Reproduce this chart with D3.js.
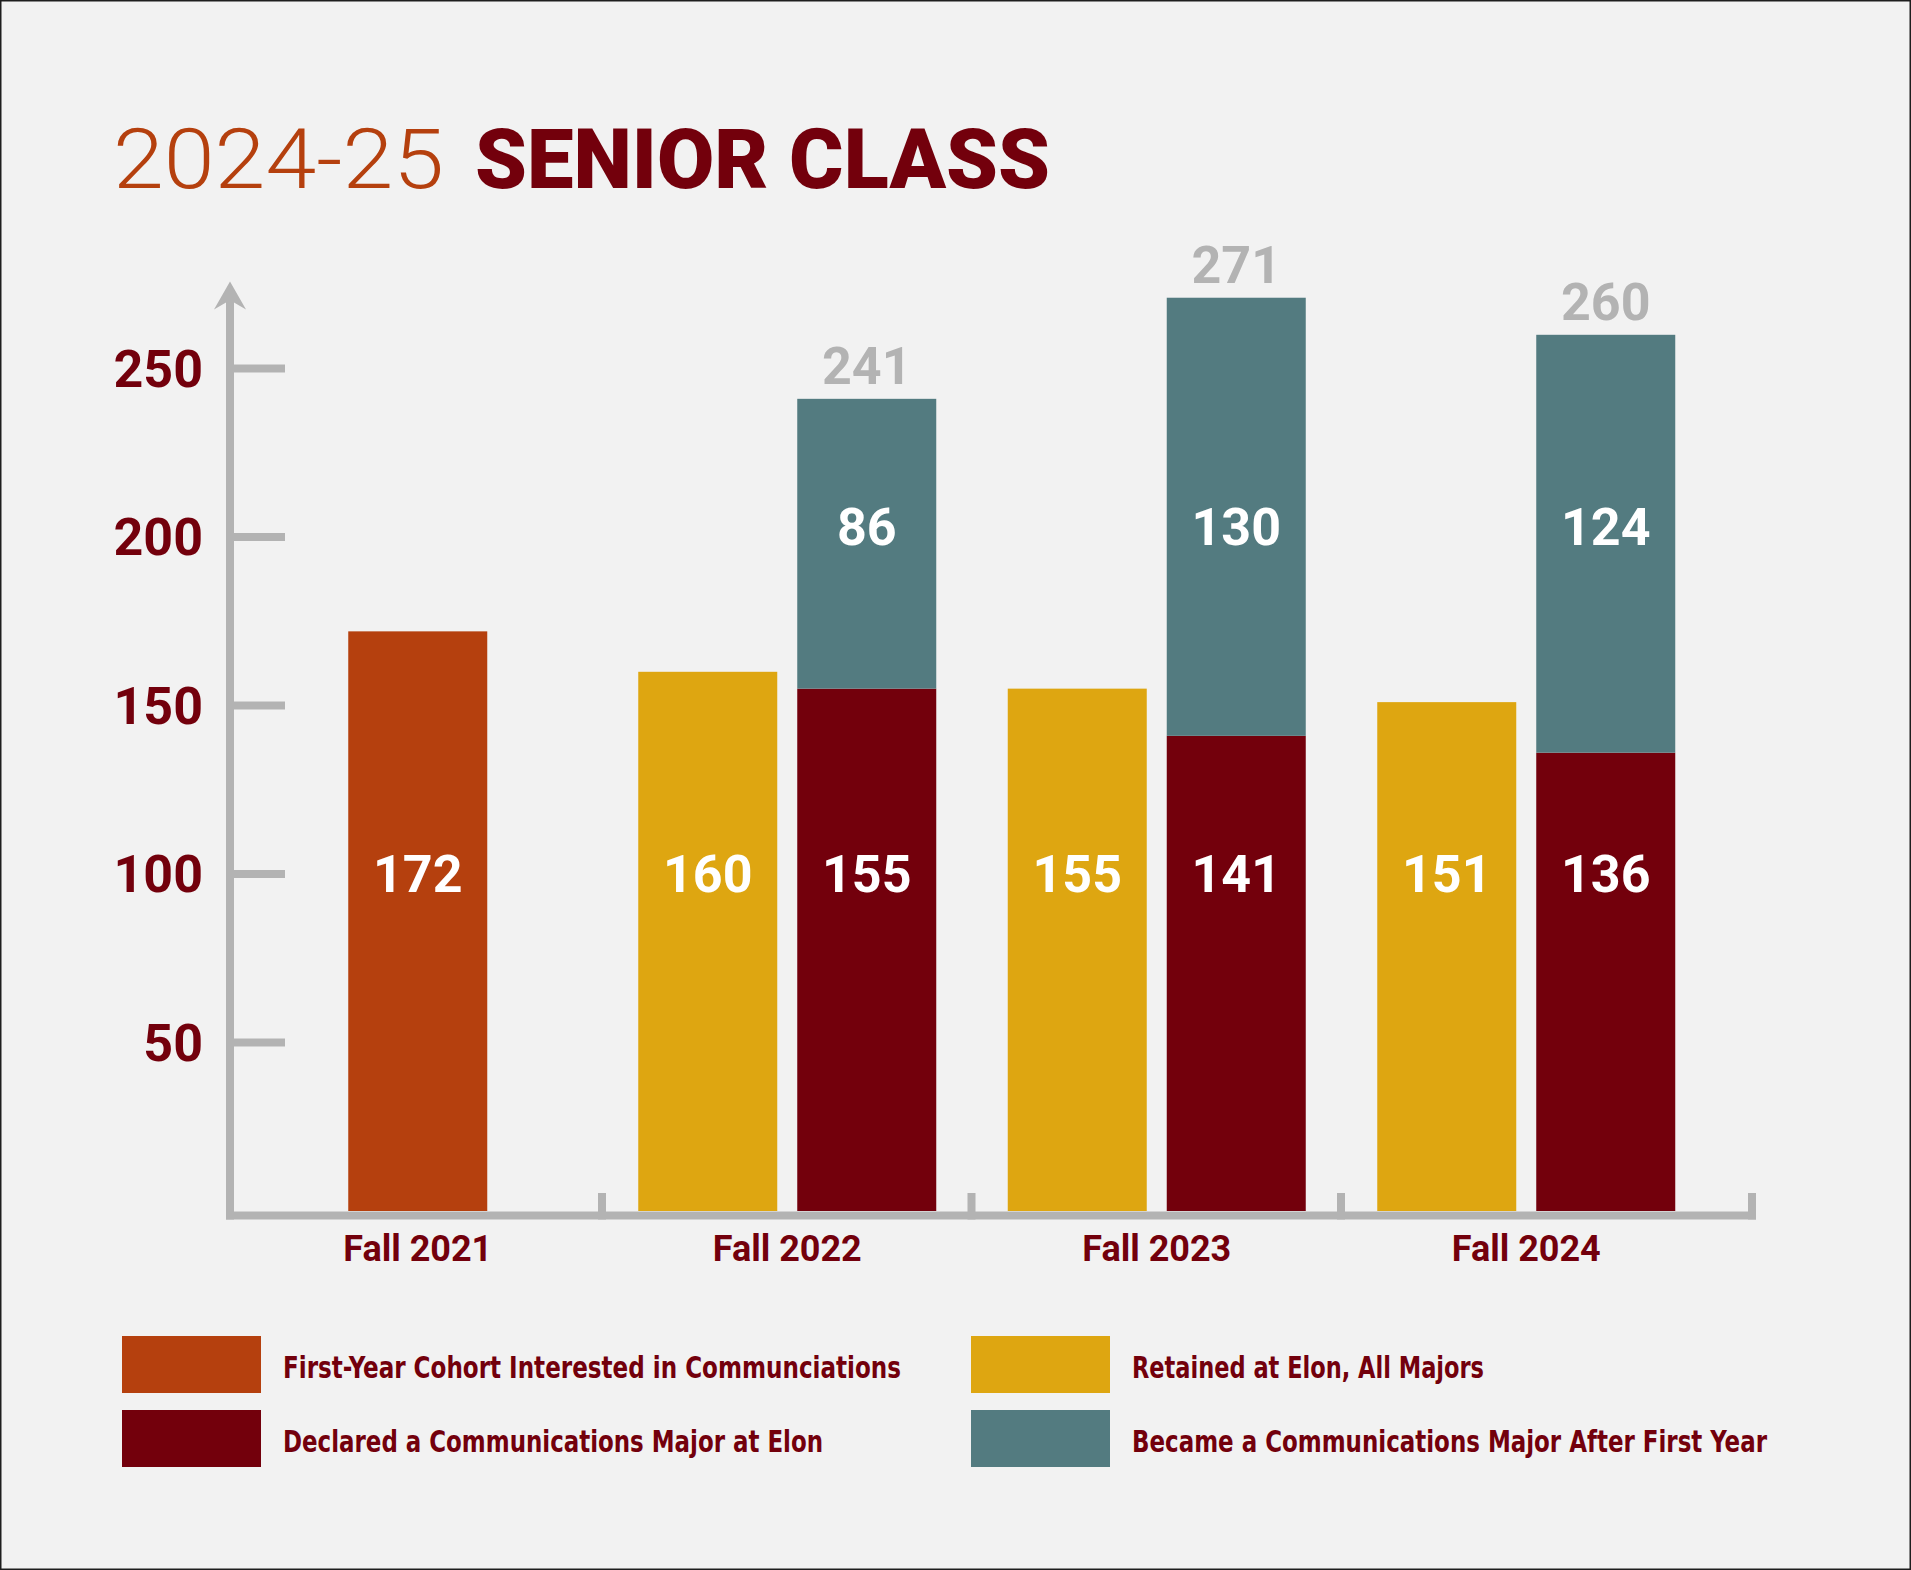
<!DOCTYPE html>
<html>
<head>
<meta charset="utf-8">
<script src="https://cdn.jsdelivr.net/npm/d3@7"></script>
<style>
  html, body { margin: 0; padding: 0; background: #f2f2f2; }
  svg { display: block; }
</style>
</head>
<body>
<svg id="chart" width="1911" height="1570"></svg>
<script>
// ---------- DATA ----------
const categories = ["Fall 2021", "Fall 2022", "Fall 2023", "Fall 2024"];
const firstYearCohort = [172, null, null, null];
const retainedAllMajors = [null, 160, 155, 151];
const declaredCommMajor = [null, 155, 141, 136];
const becameAfterFirstYear = [null, 86, 130, 124];
const yTickValues = [50, 100, 150, 200, 250];
const seriesNames = [
  "First-Year Cohort Interested in Communciations",
  "Retained at Elon, All Majors",
  "Declared a Communications Major at Elon",
  "Became a Communications Major After First Year"
];
const titleLight = "2024-25";
const titleBold = "SENIOR CLASS";

// ---------- STYLE ----------
const C = {
  bg: "#f2f2f2",
  orange: "#b5400e",
  yellow: "#dea611",
  maroon: "#73000c",
  teal: "#537b80",
  gray: "#b3b3b3",
  white: "#ffffff"
};
const seriesColors = [C.orange, C.yellow, C.maroon, C.teal];
const numFont = "Roboto, 'DejaVu Sans', sans-serif";
const legendFont = "'Liberation Sans Narrow', 'DejaVu Sans Condensed', Roboto, sans-serif";

const svg = d3.select("#chart");
svg.append("rect").attr("x", 0).attr("y", 0).attr("width", 1911).attr("height", 1570).attr("fill", C.bg);

// ---------- SCALES ----------
const y = d3.scaleLinear().domain([0, 250]).range([1211, 368.5]);
const x = d3.scaleBand().domain(categories).range([233, 1711]).paddingInner(0).paddingOuter(0);
const sub = d3.scaleBand().domain(["left", "right"]).range([-149, 149]).paddingInner(20 / 159);
const bw = sub.bandwidth();
const cx = c => x(c) + x.bandwidth() / 2;

// ---------- TITLE ----------
svg.append("text").attr("x", 113).attr("y", 188)
  .attr("font-family", numFont).attr("font-weight", 300).attr("font-size", 84)
  .attr("fill", C.orange).attr("textLength", 331).attr("lengthAdjust", "spacingAndGlyphs")
  .text(titleLight);
svg.append("text").attr("x", 475).attr("y", 188)
  .attr("font-family", numFont).attr("font-weight", 900).attr("font-size", 84)
  .attr("fill", C.maroon).attr("textLength", 575).attr("lengthAdjust", "spacingAndGlyphs")
  .text(titleBold);

// ---------- AXES ----------
const axisG = svg.append("g");
const axisX0 = x.range()[0] - 3;            // y axis line centre
const axisEnd = x.range()[1] + 41;          // right end of x axis
const axisYBase = y(0) + 4.5;               // x axis line centre
// y axis line
axisG.append("line").attr("x1", axisX0).attr("x2", axisX0)
  .attr("y1", y(250) - 78).attr("y2", axisYBase + 4)
  .attr("stroke", C.gray).attr("stroke-width", 8);
// arrow head
const tipY = y(250) - 87;
axisG.append("path")
  .attr("d", `M${axisX0},${tipY} L${axisX0 + 16},${tipY + 28} L${axisX0 + 4},${tipY + 21} L${axisX0 - 4},${tipY + 21} L${axisX0 - 16},${tipY + 28} Z`)
  .attr("fill", C.gray);
// y ticks
axisG.selectAll(".ytick").data(yTickValues).join("line")
  .attr("x1", axisX0).attr("x2", axisX0 + 55)
  .attr("y1", d => y(d)).attr("y2", d => y(d))
  .attr("stroke", C.gray).attr("stroke-width", 8);
axisG.selectAll(".ylab").data(yTickValues).join("text")
  .attr("x", axisX0 - 27).attr("y", d => y(d) + 18)
  .attr("text-anchor", "end")
  .attr("font-family", numFont).attr("font-weight", 700).attr("font-size", 52)
  .attr("fill", C.maroon).text(d => d);
// x axis line
axisG.append("line").attr("x1", axisX0 - 4).attr("x2", axisEnd + 4)
  .attr("y1", axisYBase).attr("y2", axisYBase)
  .attr("stroke", C.gray).attr("stroke-width", 8);
// x ticks at band boundaries + end
const xTickPos = categories.slice(1).map(c => x(c) - 0.5).concat([axisEnd]);
axisG.selectAll(".xtick").data(xTickPos).join("line")
  .attr("x1", d => d).attr("x2", d => d)
  .attr("y1", y(0) - 18).attr("y2", axisYBase + 4)
  .attr("stroke", C.gray).attr("stroke-width", 8);
// x labels
axisG.selectAll(".xlab").data(categories).join("text")
  .attr("x", d => cx(d)).attr("y", 1261)
  .attr("text-anchor", "middle")
  .attr("font-family", numFont).attr("font-weight", 700).attr("font-size", 36)
  .attr("fill", C.maroon).text(d => d);

// ---------- BARS ----------
const lowerLabelLevel = 100, upperLabelLevel = 203;
const barsG = svg.append("g");
const labelsG = svg.append("g");
function valueLabel(xc, yc, txt, color) {
  labelsG.append("text").attr("x", xc).attr("y", yc + 18)
    .attr("text-anchor", "middle")
    .attr("font-family", numFont).attr("font-weight", 700).attr("font-size", 52)
    .attr("fill", color).text(txt);
}
categories.forEach((c, i) => {
  const xc = cx(c);
  if (firstYearCohort[i] != null) {
    const v = firstYearCohort[i];
    barsG.append("rect").attr("x", xc - bw / 2).attr("width", bw)
      .attr("y", y(v)).attr("height", y(0) - y(v)).attr("fill", C.orange);
    valueLabel(xc, y(lowerLabelLevel), v, C.white);
  }
  if (retainedAllMajors[i] != null) {
    const v = retainedAllMajors[i];
    const xl = xc + sub("left");
    barsG.append("rect").attr("x", xl).attr("width", bw)
      .attr("y", y(v)).attr("height", y(0) - y(v)).attr("fill", C.yellow);
    valueLabel(xl + bw / 2, y(lowerLabelLevel), v, C.white);
  }
  if (declaredCommMajor[i] != null) {
    const d1 = declaredCommMajor[i], d2 = becameAfterFirstYear[i];
    const total = d1 + d2;
    const xr = xc + sub("right");
    barsG.append("rect").attr("x", xr).attr("width", bw)
      .attr("y", y(d1)).attr("height", y(0) - y(d1)).attr("fill", C.maroon);
    barsG.append("rect").attr("x", xr).attr("width", bw)
      .attr("y", y(total)).attr("height", y(d1) - y(total)).attr("fill", C.teal);
    valueLabel(xr + bw / 2, y(lowerLabelLevel), d1, C.white);
    valueLabel(xr + bw / 2, y(upperLabelLevel), d2, C.white);
    labelsG.append("text").attr("x", xr + bw / 2).attr("y", y(total) - 15)
      .attr("text-anchor", "middle")
      .attr("font-family", numFont).attr("font-weight", 700).attr("font-size", 52)
      .attr("fill", C.gray).text(total);
  }
});

// ---------- LEGEND ----------
const legendLayout = [
  { col: 0, row: 0, w: 618 },
  { col: 1, row: 0, w: 352 },
  { col: 0, row: 1, w: 540 },
  { col: 1, row: 1, w: 635 }
];
const legCol = d3.scaleOrdinal().domain([0, 1]).range([122, 971]);
const legRow = d3.scaleOrdinal().domain([0, 1]).range([1336, 1410]);
const legG = svg.append("g");
seriesNames.forEach((name, i) => {
  const L = legendLayout[i];
  const lx = legCol(L.col), ly = legRow(L.row);
  legG.append("rect").attr("x", lx).attr("y", ly).attr("width", 139).attr("height", 57)
    .attr("fill", seriesColors[i]);
  legG.append("text").attr("x", lx + 161).attr("y", ly + 42)
    .attr("font-family", legendFont).attr("font-weight", 700).attr("font-size", 30)
    .attr("fill", C.maroon).attr("textLength", L.w).attr("lengthAdjust", "spacingAndGlyphs")
    .text(name);
});

// ---------- BORDER ----------
svg.append("rect").attr("x", 0.75).attr("y", 0.75).attr("width", 1909.5).attr("height", 1568.5)
  .attr("fill", "none").attr("stroke", "#1e1e1e").attr("stroke-width", 1.5);
</script>
</body>
</html>
